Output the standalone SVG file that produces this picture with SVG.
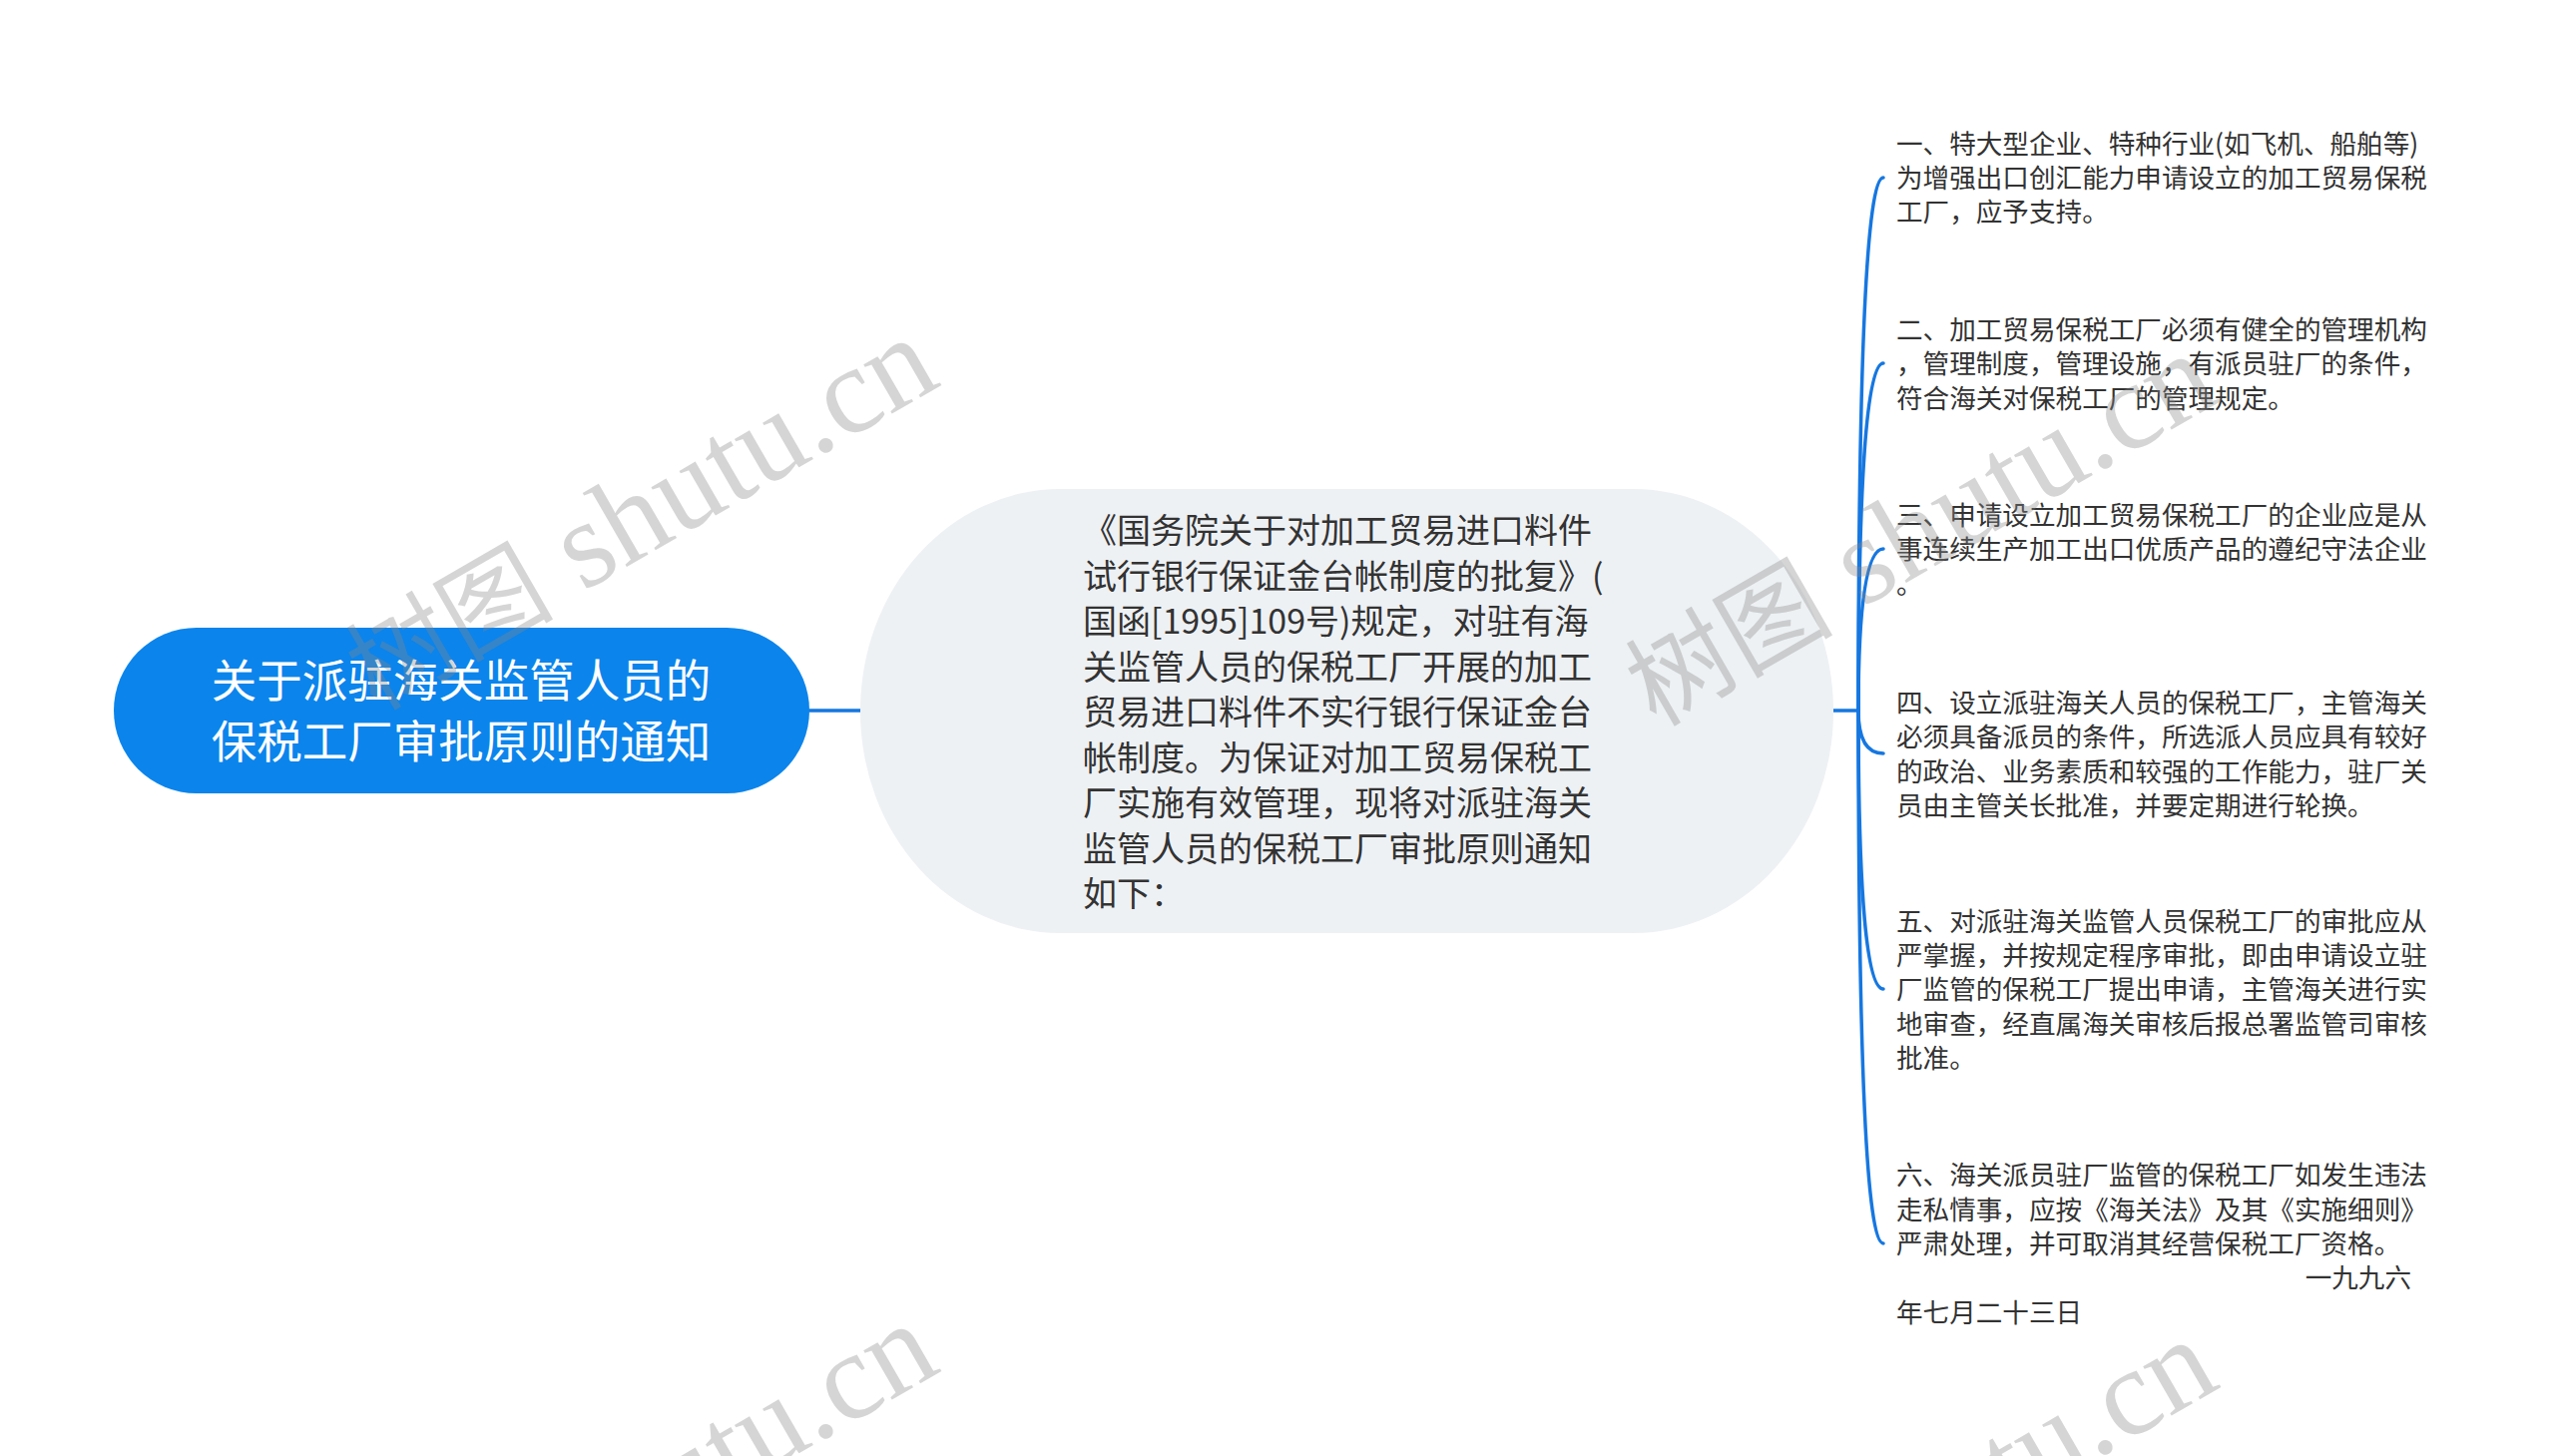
<svg xmlns="http://www.w3.org/2000/svg" width="2560" height="1459" viewBox="0 0 2560 1459">
<style>
.leaf{font-family:"Noto Sans CJK SC","Liberation Sans",sans-serif;font-size:26.6px;fill:#333333}
.mid{font-family:"Noto Sans CJK SC","Liberation Sans",sans-serif;font-size:34px;fill:#333333}
.root{font-family:"Noto Sans CJK SC","Liberation Sans",sans-serif;font-size:45.5px;fill:#ffffff}
.conn{fill:none;stroke:#1677e0;stroke-width:3.5;stroke-linecap:round}
.wm{font-family:"Liberation Serif","Noto Sans CJK SC",serif;font-size:124px;fill:#888888;fill-opacity:0.35}
.wmc{font-size:104px}
</style>
<rect width="2560" height="1459" fill="#ffffff"/>
<g id="connectors">
<path class="conn" d="M811 712 L862 712"/>
<path class="conn" d="M1837 712 L1862 712"/>
<path class="conn" d="M1862 712 Q1862 178 1887 178"/>
<path class="conn" d="M1862 712 Q1862 364 1887 364"/>
<path class="conn" d="M1862 712 Q1862 550 1887 550"/>
<path class="conn" d="M1862 712 Q1862 755 1887 755"/>
<path class="conn" d="M1862 712 Q1862 991 1887 991"/>
<path class="conn" d="M1862 712 Q1862 1246 1887 1246"/>
</g>
<g id="root">
<rect x="114" y="629" width="697" height="166" rx="83" ry="83" fill="#0b84ec"/>
<text class="root" x="462" y="699" text-anchor="middle">关于派驻海关监管人员的</text>
<text class="root" x="462" y="760" text-anchor="middle">保税工厂审批原则的通知</text>
</g>
<g id="center">
<rect x="862" y="490" width="975" height="445" rx="200" ry="222" fill="#eef1f4"/>
<text class="mid" x="1085" y="544">《国务院关于对加工贸易进口料件</text>
<text class="mid" x="1085" y="589.5">试行银行保证金台帐制度的批复》(</text>
<text class="mid" x="1085" y="635">国函[1995]109号)规定，对驻有海</text>
<text class="mid" x="1085" y="680.5">关监管人员的保税工厂开展的加工</text>
<text class="mid" x="1085" y="726">贸易进口料件不实行银行保证金台</text>
<text class="mid" x="1085" y="771.5">帐制度。为保证对加工贸易保税工</text>
<text class="mid" x="1085" y="817">厂实施有效管理，现将对派驻海关</text>
<text class="mid" x="1085" y="862.5">监管人员的保税工厂审批原则通知</text>
<text class="mid" x="1085" y="908">如下：</text>
</g>
<g id="leaf1">
<text class="leaf" x="1900" y="153.8">一、特大型企业、特种行业(如飞机、船舶等)</text>
<text class="leaf" x="1900" y="188.1">为增强出口创汇能力申请设立的加工贸易保税</text>
<text class="leaf" x="1900" y="222.4">工厂，应予支持。</text>
</g>
<g id="leaf2">
<text class="leaf" x="1900" y="340">二、加工贸易保税工厂必须有健全的管理机构</text>
<text class="leaf" x="1900" y="374.3">，管理制度，管理设施，有派员驻厂的条件，</text>
<text class="leaf" x="1900" y="408.6">符合海关对保税工厂的管理规定。</text>
</g>
<g id="leaf3">
<text class="leaf" x="1900" y="526">三、申请设立加工贸易保税工厂的企业应是从</text>
<text class="leaf" x="1900" y="560.3">事连续生产加工出口优质产品的遵纪守法企业</text>
<text class="leaf" x="1900" y="594.6">。</text>
</g>
<g id="leaf4">
<text class="leaf" x="1900" y="714">四、设立派驻海关人员的保税工厂，主管海关</text>
<text class="leaf" x="1900" y="748.3">必须具备派员的条件，所选派人员应具有较好</text>
<text class="leaf" x="1900" y="782.6">的政治、业务素质和较强的工作能力，驻厂关</text>
<text class="leaf" x="1900" y="816.9">员由主管关长批准，并要定期进行轮换。</text>
</g>
<g id="leaf5">
<text class="leaf" x="1900" y="932.6">五、对派驻海关监管人员保税工厂的审批应从</text>
<text class="leaf" x="1900" y="966.9">严掌握，并按规定程序审批，即由申请设立驻</text>
<text class="leaf" x="1900" y="1001.2">厂监管的保税工厂提出申请，主管海关进行实</text>
<text class="leaf" x="1900" y="1035.5">地审查，经直属海关审核后报总署监管司审核</text>
<text class="leaf" x="1900" y="1069.8">批准。</text>
</g>
<g id="leaf6">
<text class="leaf" x="1900" y="1187.3">六、海关派员驻厂监管的保税工厂如发生违法</text>
<text class="leaf" x="1900" y="1221.6">走私情事，应按《海关法》及其《实施细则》</text>
<text class="leaf" x="1900" y="1255.9">严肃处理，并可取消其经营保税工厂资格。</text>
<text class="leaf" x="2416" y="1290.2" text-anchor="end">一九九六</text>
<text class="leaf" x="1900" y="1324.5">年七月二十三日</text>
</g>
<g id="watermarks">
<text class="wm" x="945" y="385" text-anchor="end" transform="rotate(-30 945 385)"><tspan class="wmc">树图</tspan> shutu.cn</text>
<text class="wm" x="2227" y="401" text-anchor="end" transform="rotate(-30 2227 401)"><tspan class="wmc">树图</tspan> shutu.cn</text>
<text class="wm" x="945" y="1373" text-anchor="end" transform="rotate(-30 945 1373)"><tspan class="wmc">树图</tspan> shutu.cn</text>
<text class="wm" x="2227" y="1389" text-anchor="end" transform="rotate(-30 2227 1389)"><tspan class="wmc">树图</tspan> shutu.cn</text>
</g>
</svg>
